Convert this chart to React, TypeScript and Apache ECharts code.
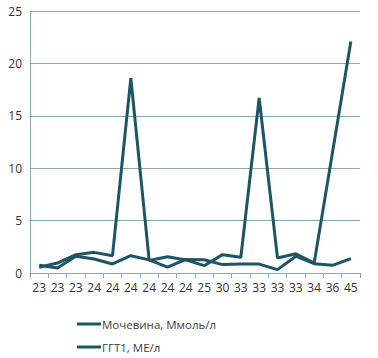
import React, { useEffect, useRef } from "react";
import * as echarts from "echarts";

const categories = ["23", "23", "23", "24", "24", "24", "24", "24", "24", "25", "30", "33", "33", "33", "33", "34", "36", "45"];
const urea = [0.55, 0.95, 1.75, 1.97, 1.65, 18.6, 1.2, 1.55, 1.25, 0.7, 1.75, 1.5, 16.7, 1.43, 1.84, 0.95, 11.5, 22.1];
const ggt = [0.73, 0.47, 1.6, 1.33, 0.86, 1.65, 1.25, 0.57, 1.3, 1.27, 0.8, 0.86, 0.85, 0.32, 1.6, 0.89, 0.73, 1.37];
const seriesNames = ["Мочевина, Ммоль/л", "ГГТ1, МЕ/л"];
const yTicks = { min: 0, max: 25, interval: 5 };

const lineColor = "#1d5566";
const axisColor = "#86aabb";
const font = "'Open Sans', 'Liberation Sans', sans-serif";

export default function App() {
  const ref = useRef<HTMLDivElement>(null);
  useEffect(() => {
    if (!ref.current) return;
    const chart = echarts.init(ref.current, undefined, { renderer: "svg" });
    chart.setOption({
      animation: false,
      textStyle: { fontFamily: font },
      grid: { left: 30, right: 18, top: 11, bottom: 85, containLabel: false },
      legend: {
        orient: "vertical",
        left: 77,
        top: 318,
        height: 40,
        padding: 0,
        itemWidth: 24,
        itemHeight: 3,
        itemGap: 11,
        icon: "rect",
        textStyle: { fontSize: 11.5, color: "#404040", fontFamily: font, padding: [0, 0, 0, -4] },
        data: seriesNames,
      },
      xAxis: {
        type: "category",
        data: categories,
        boundaryGap: true,
        axisLine: { show: true, lineStyle: { color: axisColor, width: 1 } },
        axisTick: { show: true, alignWithLabel: false, length: 5, lineStyle: { color: axisColor } },
        axisLabel: { color: "#333", fontSize: 12, margin: 8, interval: 0, fontFamily: font },
        splitLine: { show: false },
      },
      yAxis: {
        type: "value",
        min: yTicks.min,
        max: yTicks.max,
        interval: yTicks.interval,
        axisLine: { show: true, lineStyle: { color: axisColor, width: 1 } },
        axisTick: { show: false },
        axisLabel: { color: "#333", fontSize: 12, margin: 8, fontFamily: font },
        splitLine: { show: true, lineStyle: { color: axisColor, width: 1 } },
      },
      series: [
        {
          name: seriesNames[0],
          type: "line",
          data: urea,
          symbol: "none",
          lineStyle: { color: lineColor, width: 3 },
          itemStyle: { color: lineColor },
        },
        {
          name: seriesNames[1],
          type: "line",
          data: ggt,
          symbol: "none",
          lineStyle: { color: lineColor, width: 3 },
          itemStyle: { color: lineColor },
        },
      ],
    });
    return () => chart.dispose();
  }, []);
  return <div ref={ref} style={{ width: 378, height: 358, position: "absolute", left: 0, top: 0 }} />;
}
